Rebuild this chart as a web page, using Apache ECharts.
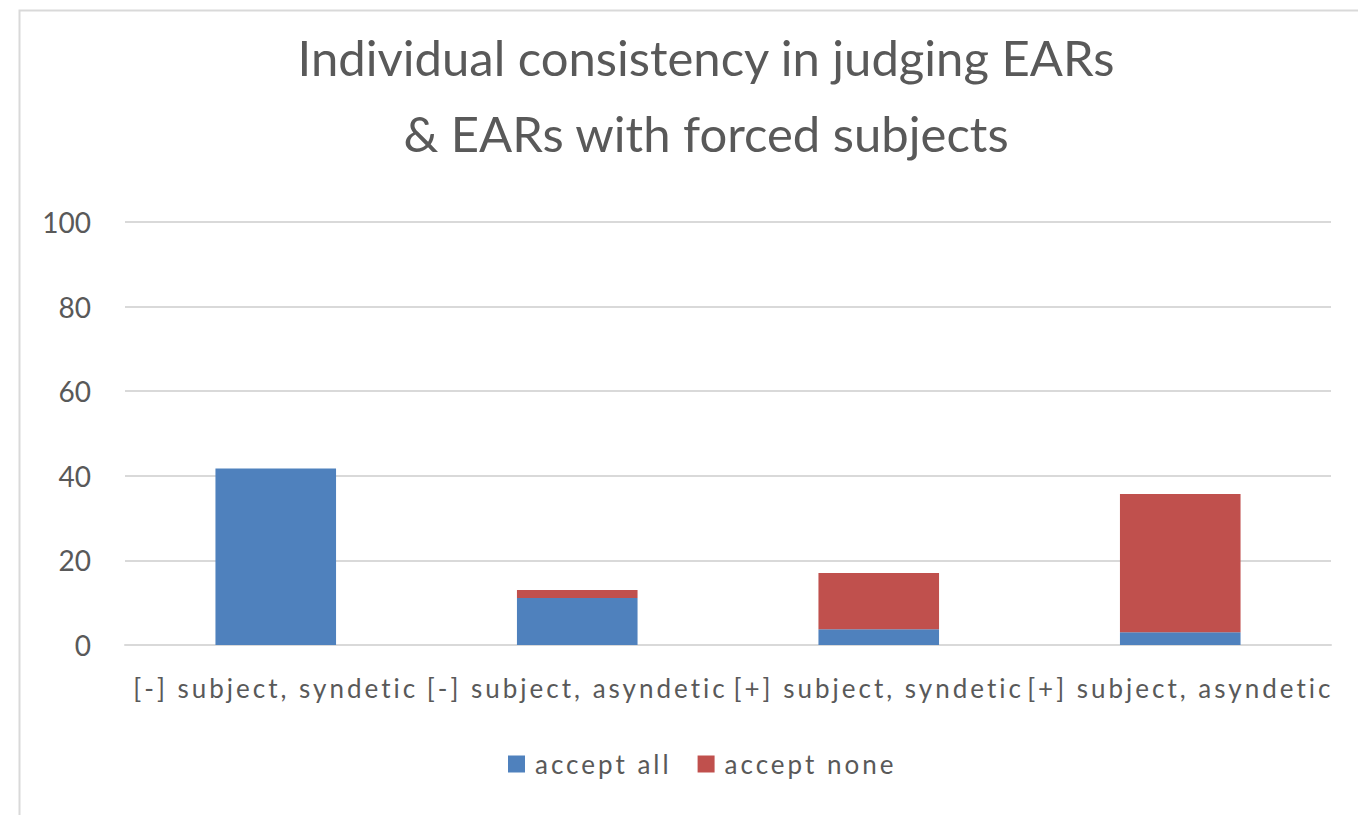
<!DOCTYPE html>
<html>
<head>
<meta charset="utf-8">
<script src="https://cdn.jsdelivr.net/npm/echarts@6/dist/echarts.min.js"></script>
<style>
  html, body { margin: 0; padding: 0; background: #fff; }
  #chart { width: 1358px; height: 815px; }
  #chart text[style*="sans-serif"] { letter-spacing: 3px; }
</style>
</head>
<body>
<div id="chart"></div>
<script>
const categories = ['[-] subject, syndetic', '[-] subject, asyndetic', '[+] subject, syndetic', '[+] subject, asyndetic'];
const acceptAll = [41.7, 11.1, 3.7, 3.0];
const acceptNone = [0, 1.9, 13.3, 32.7];
const yTicks = [0, 20, 40, 60, 80, 100];

const chart = echarts.init(document.getElementById('chart'), null, { renderer: 'svg' });
const spaced = 'Lato, sans-serif';
chart.setOption({
  animation: false,
  backgroundColor: '#fff',
  title: {
    text: 'Individual consistency in judging EARs\n& EARs with forced subjects',
    left: 701,
    textAlign: 'center',
    top: 14,
    textStyle: { fontFamily: 'Lato', fontSize: 49, fontWeight: 'normal', color: '#595959', lineHeight: 76 }
  },
  graphic: [{
    type: 'rect', left: 17, top: 8, silent: true,
    shape: { width: 1400, height: 900 },
    style: { fill: 'none', stroke: '#d9d9d9', lineWidth: 2 }
  }],
  legend: {
    left: 503, top: 746,
    itemWidth: 17, itemHeight: 17, itemGap: 56,
    icon: 'rect',
    textStyle: { fontFamily: spaced, fontSize: 26, color: '#595959', padding: [0, 0, 0, 5] },
    data: ['accept all', 'accept none']
  },
  grid: { left: 125, right: 27, top: 222, bottom: 170 },
  xAxis: {
    type: 'category',
    data: categories,
    axisLine: { lineStyle: { color: '#d9d9d9', width: 2 } },
    axisTick: { show: false },
    axisLabel: { interval: 0, margin: 30, fontFamily: spaced, fontSize: 26, color: '#595959', hideOverlap: false }
  },
  yAxis: {
    type: 'value',
    min: yTicks[0], max: yTicks[yTicks.length - 1], interval: yTicks[1] - yTicks[0],
    axisLine: { show: false },
    axisTick: { show: false },
    splitLine: { lineStyle: { color: '#d9d9d9', width: 2 } },
    axisLabel: { margin: 34, fontFamily: 'Lato', fontSize: 28, color: '#595959' }
  },
  series: [
    { name: 'accept all', type: 'bar', stack: 's', barWidth: '40%', data: acceptAll, itemStyle: { color: '#4f81bd' } },
    { name: 'accept none', type: 'bar', stack: 's', barWidth: '40%', data: acceptNone, itemStyle: { color: '#c0504d' } }
  ]
});
</script>
</body>
</html>
